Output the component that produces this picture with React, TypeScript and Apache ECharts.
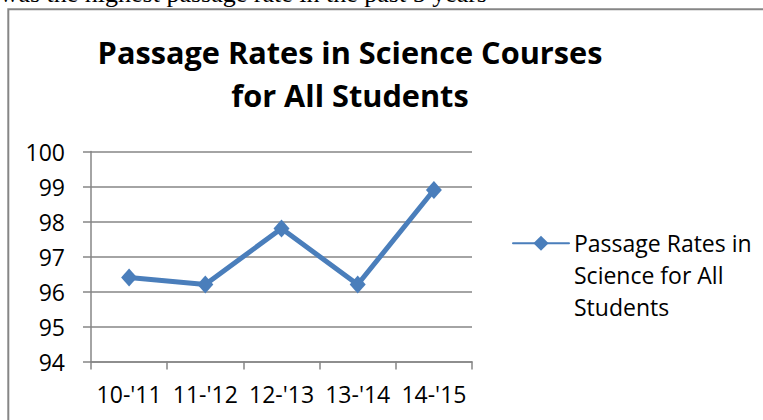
import React, { useEffect, useRef } from "react";
import * as echarts from "echarts";

const categories = ["10-'11", "11-'12", "12-'13", "13-'14", "14-'15"];
const passageRates = [96.4, 96.2, 97.8, 96.2, 98.9];
const seriesName = "Passage Rates in Science for All Students";
const legendLines = ["Passage Rates in", "Science for All", "Students"];
const titleLines = ["Passage Rates in Science Courses", "for All Students"];
const headerText = "was the highest passage rate in the past 5 years";
const yMin = 94;
const yMax = 100;
const yStep = 1;

const FONT = "'Open Sans', Lato, sans-serif";

export default function App() {
  const ref = useRef<HTMLDivElement>(null);
  useEffect(() => {
    if (!ref.current) return;
    const chart = echarts.init(ref.current, null, { renderer: "svg" });
    chart.setOption({
      animation: false,
      backgroundColor: "#ffffff",
      title: {
        text: titleLines.join("\n"),
        left: 350,
        top: 30,
        padding: 0,
        textAlign: "center",
        textStyle: {
          fontFamily: FONT,
          fontWeight: "bold",
          fontSize: 30.7,
          lineHeight: 43.4,
          color: "#000000",
        },
      },
      legend: {
        left: 512,
        top: 164,
        padding: 0,
        itemWidth: 56,
        itemHeight: 19,
        itemGap: 5,
        data: [seriesName],
        formatter: () => "\n\n" + legendLines.join("\n"),
        textStyle: {
          fontFamily: FONT,
          fontSize: 23,
          lineHeight: 31.7,
          color: "#000000",
        },
      },
      graphic: [
        {
          type: "rect",
          shape: { x: 8.3, y: 9.3, width: 800, height: 500 },
          style: { fill: "none", stroke: "#868686", lineWidth: 2 },
          silent: true,
        },
        {
          type: "text",
          x: 487,
          y: -6.5,
          style: {
            text: headerText,
            font: "26px 'Liberation Serif', 'Times New Roman', serif",
            fill: "#000000",
            textAlign: "right",
            textVerticalAlign: "middle",
          },
          silent: true,
        },
      ],
      grid: { left: 91, top: 151.5, width: 381, height: 210, containLabel: false },
      xAxis: {
        type: "category",
        data: categories,
        boundaryGap: true,
        axisLine: { show: true, lineStyle: { color: "#868686", width: 1.5 } },
        axisTick: { show: true, length: 8, lineStyle: { color: "#868686", width: 1.5 } },
        axisLabel: {
          margin: 21,
          fontFamily: FONT,
          fontSize: 23,
          color: "#000000",
          interval: 0,
        },
        splitLine: { show: false },
      },
      yAxis: {
        type: "value",
        min: yMin,
        max: yMax,
        interval: yStep,
        axisLine: { show: true, lineStyle: { color: "#868686", width: 1.5 } },
        axisTick: { show: true, length: 8, lineStyle: { color: "#868686", width: 1.5 } },
        axisLabel: {
          margin: 26,
          fontFamily: FONT,
          fontSize: 23,
          color: "#000000",
        },
        splitLine: { show: true, lineStyle: { color: "#868686", width: 1.5 } },
      },
      series: [
        {
          name: seriesName,
          type: "line",
          data: passageRates,
          symbol: "diamond",
          symbolSize: [16, 18],
          lineStyle: { color: "#4A7EBB", width: 5, cap: "round", join: "round" },
          itemStyle: { color: "#4A7EBB" },
        },
      ],
    });
    return () => chart.dispose();
  }, []);
  return (
    <div
      ref={ref}
      style={{ position: "absolute", left: 0, top: 0, width: 763, height: 420 }}
    />
  );
}
